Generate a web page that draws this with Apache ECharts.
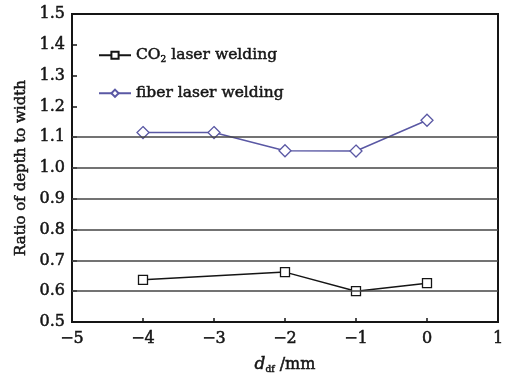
<!DOCTYPE html>
<html><head><meta charset="utf-8">
<script src="https://cdn.jsdelivr.net/npm/echarts@6/dist/echarts.min.js"></script>
<style>html,body{margin:0;padding:0;background:#fff}#c{width:505px;height:376px}</style>
</head><body><div id="c"></div>
<script>
const xCO2 = [-4, -2, -1, 0];
const yCO2 = [0.637, 0.662, 0.600, 0.626];
const xFiber = [-4, -3, -2, -1, 0];
const yFiber = [1.115, 1.115, 1.056, 1.055, 1.155];
const seriesNames = ['CO2 laser welding', 'fiber laser welding'];
const gridValues = [0.6, 0.7, 0.8, 0.9, 1.0, 1.1];

const FONT = 'DejaVu Serif';
const INK = '#151515';
const thick = { textBorderColor: INK, textBorderWidth: 0.5 };
const chart = echarts.init(document.getElementById('c'));
chart.setOption({
  animation: false,
  backgroundColor: '#fff',
  textStyle: { fontFamily: FONT },
  grid: { left: 72, right: 7, top: 14, bottom: 54, show: true, borderColor: INK, borderWidth: 2, outerBoundsMode: 'none', containLabel: false },
  legend: {
    orient: 'vertical', left: 93, top: 42, itemGap: 21, itemWidth: 32, itemHeight: 9,
    textStyle: { fontFamily: FONT, fontSize: 15.5, color: INK,
      rich: { t: Object.assign({ fontFamily: FONT, fontSize: 15.5, color: INK }, thick), s: Object.assign({ fontFamily: FONT, fontSize: 9, color: INK, verticalAlign: 'bottom', padding: [8, 0, 0, 0] }, thick) } },
    formatter: function (n) { return n.indexOf('CO2') === 0 ? '{t|CO}{s|2}{t|' + n.slice(3) + '}' : '{t|' + n + '}'; },
    data: seriesNames
  },
  xAxis: {
    type: 'value', min: -5, max: 1, interval: 1,
    name: '{i|d}{s|df}{n| /mm}', nameLocation: 'middle', nameGap: 33,
    nameTextStyle: { rich: {
      i: Object.assign({ fontFamily: FONT, fontStyle: 'italic', fontSize: 17, color: INK }, thick),
      s: Object.assign({ fontFamily: FONT, fontSize: 9, color: INK, verticalAlign: 'bottom', padding: [10, 0, 0, 0] }, thick),
      n: Object.assign({ fontFamily: FONT, fontSize: 16, color: INK }, thick) } },
    axisLine: { onZero: false, lineStyle: { color: INK, width: 2 } },
    axisTick: { inside: true, length: 4, lineStyle: { color: INK, width: 1.5 } },
    axisLabel: Object.assign({ fontFamily: FONT, fontSize: 16, color: INK, margin: 9, formatter: v => String(v).replace('-', '\u2212') }, thick),
    splitLine: { show: false }
  },
  yAxis: {
    type: 'value', min: 0.5, max: 1.5, interval: 0.1,
    name: 'Ratio of depth to width', nameLocation: 'middle', nameGap: 43,
    nameTextStyle: Object.assign({ fontFamily: FONT, fontSize: 15, color: INK }, thick),
    axisLine: { onZero: false, lineStyle: { color: INK, width: 2 } },
    axisTick: { inside: true, length: 5, lineStyle: { color: INK, width: 1.5 } },
    axisLabel: Object.assign({ fontFamily: FONT, fontSize: 16, color: INK, margin: 7, formatter: v => v.toFixed(1) }, thick),
    splitLine: { show: false }
  },
  series: [
    {
      name: seriesNames[0], type: 'line', data: xCO2.map((x, i) => [x, yCO2[i]]),
      symbol: 'rect', symbolSize: 9, showAllSymbol: true,
      lineStyle: { color: INK, width: 1.5 },
      itemStyle: { color: '#fff', borderColor: INK, borderWidth: 1.3 },
      markLine: { silent: true, symbol: 'none', label: { show: false },
        lineStyle: { color: '#444', width: 1.6, type: 'solid' },
        data: gridValues.map(v => ({ yAxis: v })) },
      z: 3
    },
    {
      name: seriesNames[1], type: 'line', data: xFiber.map((x, i) => [x, yFiber[i]]),
      symbol: 'diamond', symbolSize: 12, showAllSymbol: true,
      lineStyle: { color: '#5a58a4', width: 1.5 },
      itemStyle: { color: '#fff', borderColor: '#5a58a4', borderWidth: 1.3 },
      z: 3
    }
  ]
});
</script></body></html>
